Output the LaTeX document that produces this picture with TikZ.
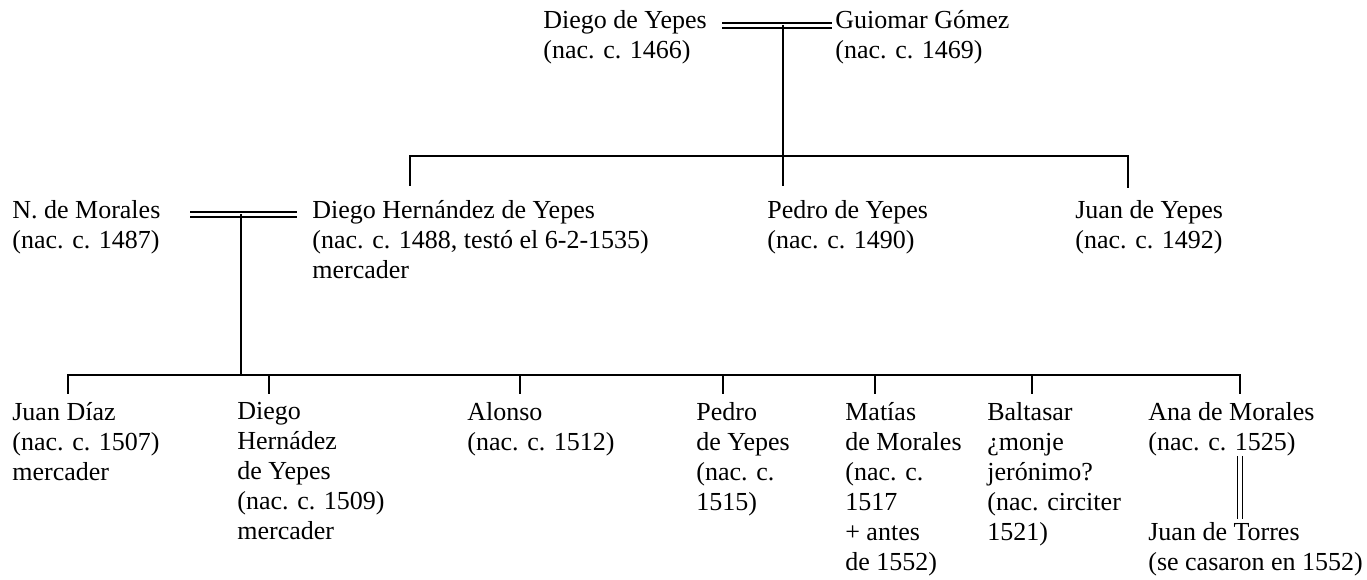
\documentclass[tikz,border=0pt]{standalone}
\usepackage{fontspec}
\setmainfont{Liberation Serif}
\newcommand\pfont{\fontsize{14.8}{17.07}\selectfont}
\begin{document}
\begin{tikzpicture}[x=0.02cm,y=-0.02cm,
  person/.style={anchor=north west, inner sep=0pt, align=left, font=\pfont, execute at begin node=\strut},
  line/.style={line width=1pt},
  wed/.style={line width=0.7pt, double, double distance=0.075cm}]
\useasboundingbox (0,0) rectangle (1367,580);
% generation 1
\node[person] (dy) at (543,10) {Diego de Yepes\\(nac. c. 1466)};
\node[person] (gg) at (835,10) {Guiomar Gómez\\(nac. c. 1469)};
\coordinate (w1a) at (722,25.5);
\coordinate (w1b) at (832,25.5);
\coordinate (w1m) at (783,25.5);
\draw[wed] (w1a) -- (w1b);
% generation 2
\node[person] (nm) at (12,200) {N. de Morales\\(nac. c. 1487)};
\node[person] (dh) at (312,200) {Diego Hernández de Yepes\\(nac. c. 1488, testó el 6-2-1535)\\mercader};
\node[person] (py) at (767,200) {Pedro de Yepes\\(nac. c. 1490)};
\node[person] (jy) at (1075,200) {Juan de Yepes\\(nac. c. 1492)};
\coordinate (b1) at (783,156);
\coordinate (tdh) at (410,186);
\coordinate (tpy) at (783,186);
\coordinate (tjy) at (1128,188);
\draw[line] (w1m) -- (tpy);
\draw[line] (tdh) -- (tdh |- b1) -- (tjy |- b1) -- (tjy);
\coordinate (w2a) at (190,214.5);
\coordinate (w2b) at (297,214.5);
\coordinate (w2m) at (241,214.5);
\draw[wed] (w2a) -- (w2b);
% generation 3
\node[person] (jd) at (12,402) {Juan Díaz\\(nac. c. 1507)\\mercader};
\node[person] (dd) at (237,402) {Diego\\Hernádez\\de Yepes\\(nac. c. 1509)\\mercader};
\node[person] (al) at (467,402) {Alonso\\(nac. c. 1512)};
\node[person] (pe) at (696,402) {Pedro\\de Yepes\\(nac. c.\\1515)};
\node[person] (ma) at (845,402) {Matías\\de Morales\\(nac. c.\\1517\\+ antes\\de 1552)};
\node[person] (ba) at (987,402) {Baltasar\\¿monje\\jerónimo?\\(nac. circiter\\1521)};
\node[person] (an) at (1148,402) {Ana de Morales\\(nac. c. 1525)};
\node[person] (jt) at (1148,522) {Juan de Torres\\(se casaron en 1552)};
\coordinate (b2) at (241,375);
\coordinate (t1) at (68,394);
\coordinate (t2) at (269,394);
\coordinate (t3) at (520,394);
\coordinate (t4) at (723,394);
\coordinate (t5) at (875,394);
\coordinate (t6) at (1032,394);
\coordinate (t7) at (1240,394);
\draw[line] (w2m) -- (b2);
\draw[line] (t1) -- (t1 |- b2) -- (t7 |- b2) -- (t7);
\foreach \t in {t2,t3,t4,t5,t6} \draw[line] (\t |- b2) -- (\t);
\coordinate (m3a) at (1240,456);
\coordinate (m3b) at (1240,519);
\draw[wed] (m3a) -- (m3b);
\end{tikzpicture}
\end{document}
